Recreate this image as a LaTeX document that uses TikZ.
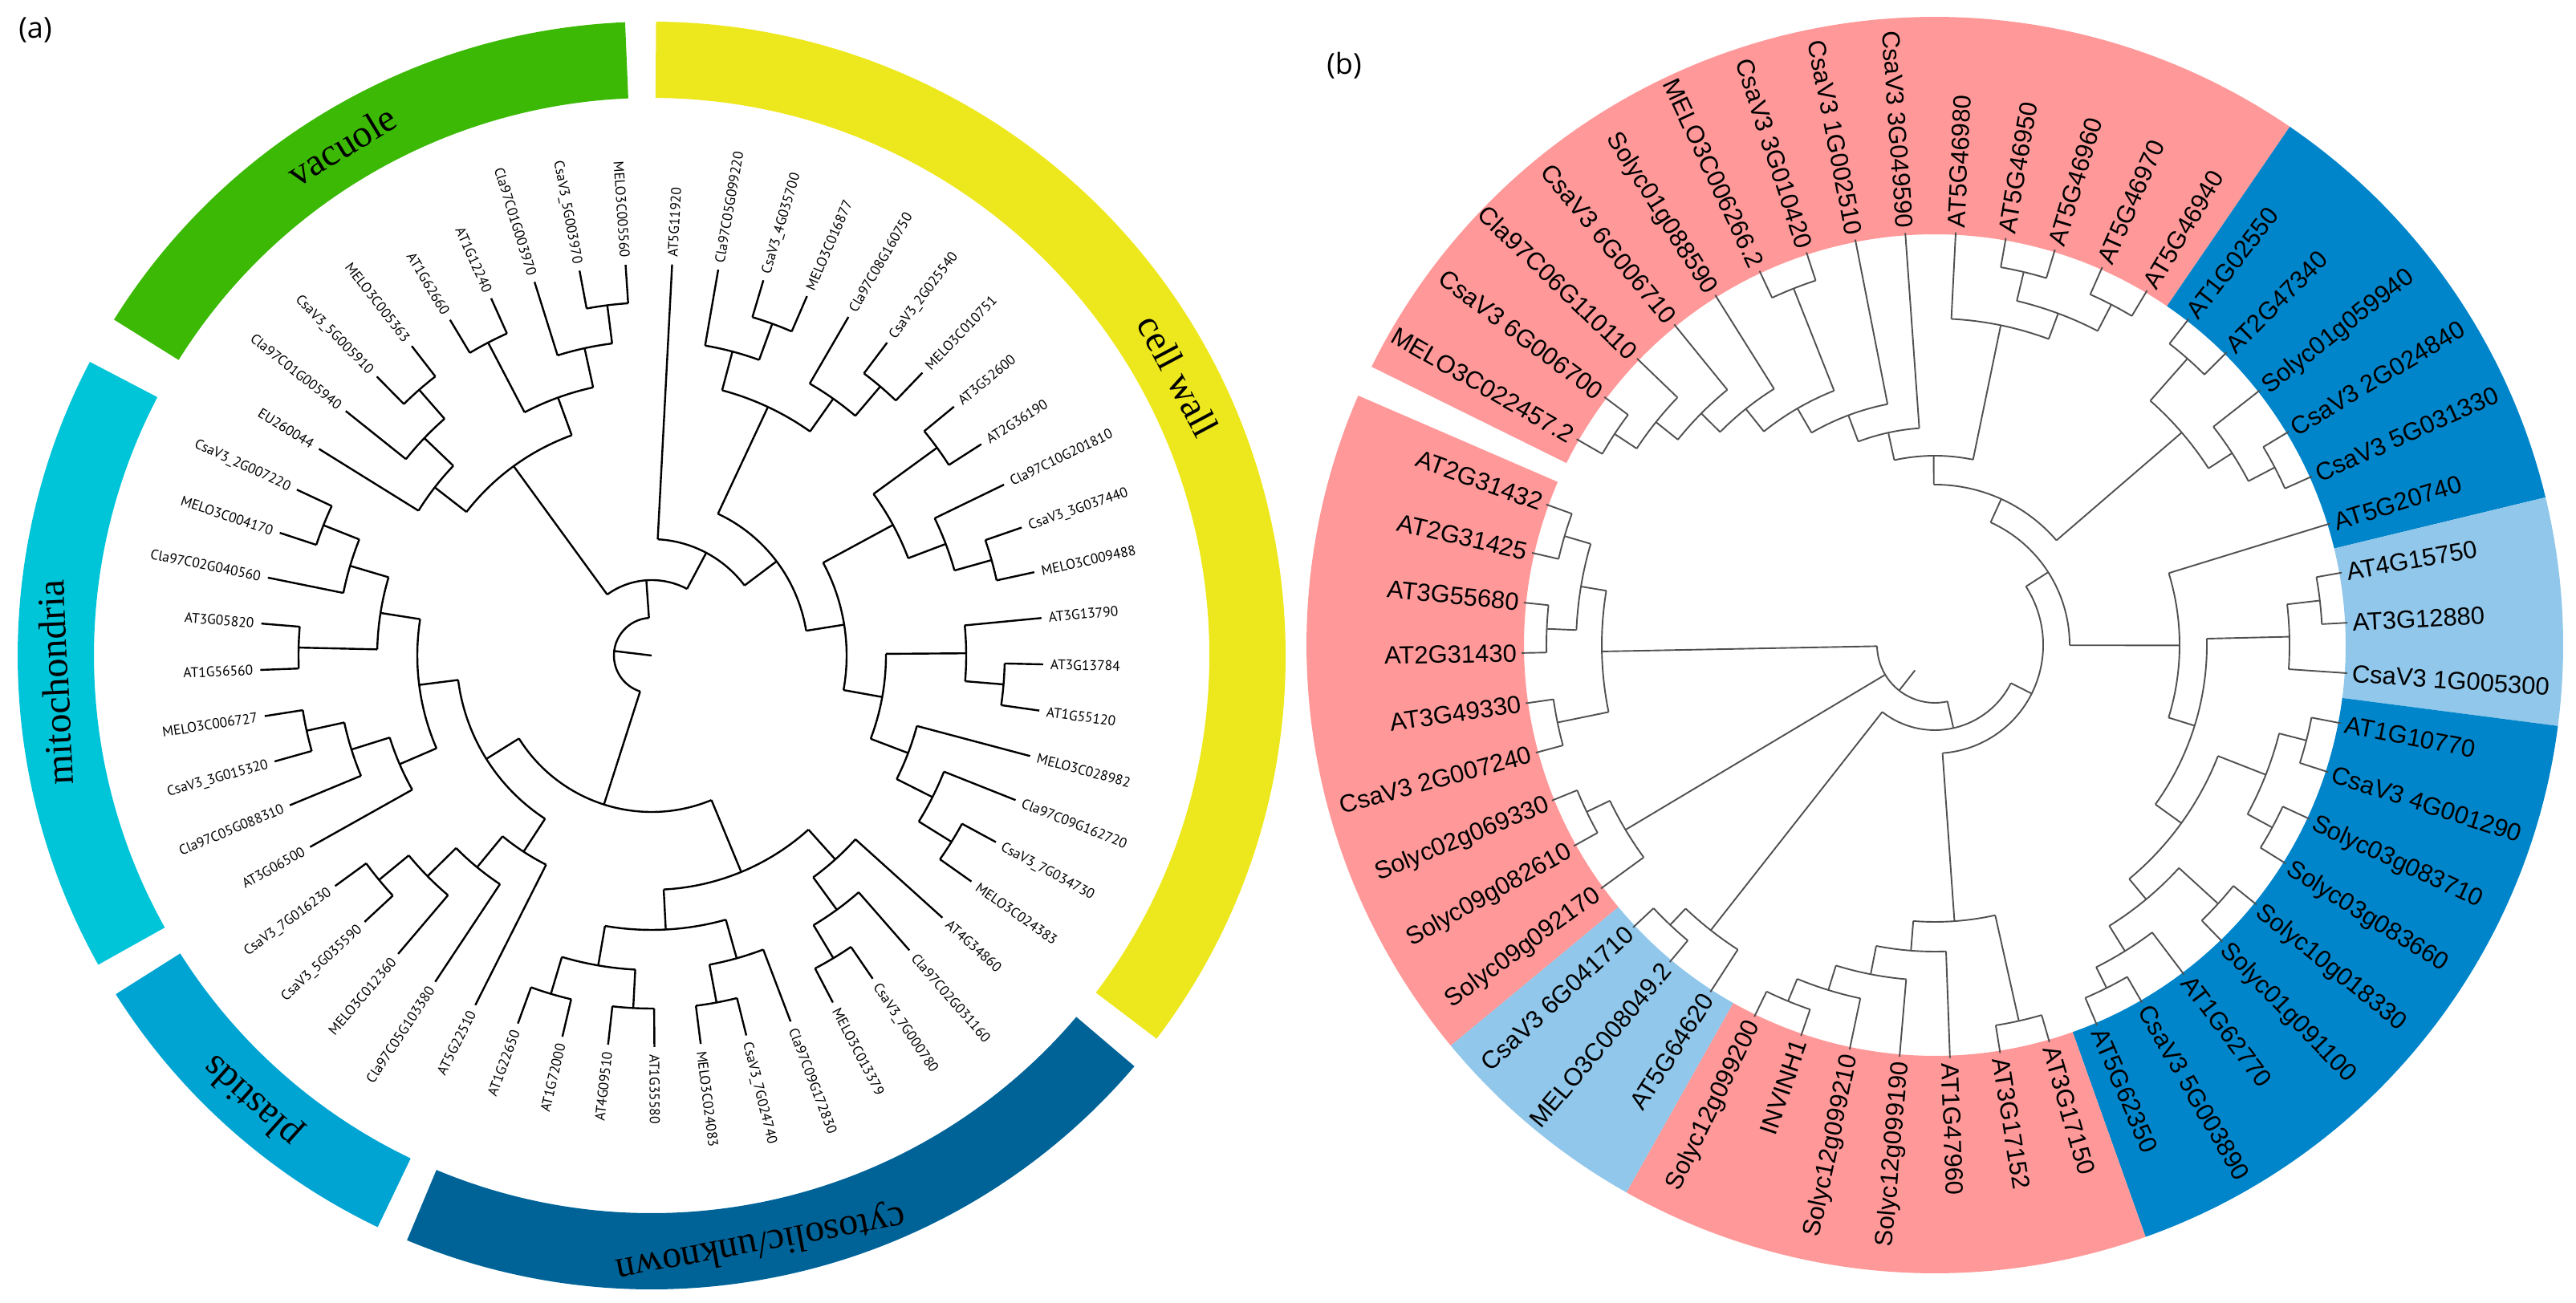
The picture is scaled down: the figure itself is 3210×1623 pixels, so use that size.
\documentclass[tikz,border=0pt]{standalone}
\usepackage{fontspec}
\newfontfamily\tipLfont{PT Sans}
\newfontfamily\tipRfont{Liberation Sans}
\newfontfamily\bandfont{Liberation Serif}
\newfontfamily\panelfont{Open Sans}
\definecolor{vacgreen}{RGB}{60,185,5}
\definecolor{wallyellow}{RGB}{237,232,30}
\definecolor{mitocyan}{RGB}{0,196,216}
\definecolor{plastblue}{RGB}{0,164,210}
\definecolor{cytoblue}{RGB}{0,99,152}
\definecolor{groupink}{RGB}{255,153,153}
\definecolor{groupdark}{RGB}{0,133,202}
\definecolor{grouplight}{RGB}{144,199,234}
\definecolor{treegray}{RGB}{80,80,80}
\tikzset{
  branchL/.style={line width=2.4pt, black},
  branchR/.style={line width=1.9pt, treegray},
  tipL/.style={font=\tipLfont\fontsize{17.5}{21}\selectfont, inner sep=0pt, text depth=0pt},
  tipR/.style={font=\tipRfont\fontsize{31}{36}\selectfont, inner sep=0pt, text depth=0pt},
  bandtext/.style={font=\bandfont\fontsize{48}{56}\selectfont, inner sep=0pt},
  panel/.style={font=\panelfont\fontsize{36}{42}\selectfont, inner sep=0pt}
}
% arc of a clade and the stem down to its parent
\newcommand{\cladearc}[5]{%
  \pgfmathsetmacro{\cmid}{(#3+#4)/2}%
  \draw[#1] (#3:#2) arc[start angle=#3, end angle=#4, radius=#2];%
  \draw[#1] (\cmid:#5) -- (\cmid:#2);%
}
\newcommand{\bandsector}[5]{%
  \fill[#1] (#4:#2) arc[start angle=#4, end angle=#5, radius=#2]
    -- (#5:#3) arc[start angle=#5, end angle=#4, radius=#3] -- cycle;%
}
\begin{document}
\begin{tikzpicture}[x=1pt,y=1pt]
\useasboundingbox (0,0) rectangle (3210,1623);
\node[panel] (pa) at (44,1585) {(a)};
\node[panel] (pb) at (1675,1541) {(b)};

\begin{scope}[shift={(812,806)}]
  \bandsector{wallyellow}{695}{790}{89.6}{-37.2}
  \bandsector{cytoblue}{695}{790}{-40.4}{-112.7}
  \bandsector{plastblue}{695}{790}{-115.6}{-147.7}
  \bandsector{mitocyan}{695}{790}{-150.8}{-207.6}
  \bandsector{vacgreen}{695}{790}{-212.0}{-267.6}
  \node[bandtext, rotate=31.3] (vac) at (121.3:744) {vacuole};
  \node[bandtext, rotate=-62] (wall) at (28:743) {cell wall};
  \node[bandtext, rotate=92.6] (mito) at (182.6:744) {mitochondria};
  \node[bandtext, rotate=138.1] (plast) at (228.1:744) {plastids};
  \node[bandtext, rotate=190.5] (cyto) at (280.5:744) {cytosolic/unknown};

  \foreach \r/\a/\b/\p in {440/-259.39/-266.18/392, 392/-252.6/-262.79/342,
    440/-239.02/-245.81/342, 342/-242.41/-257.7/292, 440/-225.43/-232.22/392,
    392/-218.64/-228.83/342, 342/-211.85/-223.74/292, 292/-217.79/-250.06/94,
    440/73.42/66.62/392, 392/80.21/70.02/342, 440/53.04/46.25/392,
    392/59.83/49.64/342, 342/75.11/54.74/195, 440/39.46/32.66/342,
    440/19.08/12.29/392, 392/25.87/15.68/342, 342/36.06/20.78/243,
    440/-1.3/-8.09/392, 392/5.5/-4.69/292, 440/-28.46/-35.26/392,
    392/-21.67/-31.86/342, 342/-14.88/-26.77/292, 292/0.4/-20.82/243,
    243/28.42/-10.21/195, 195/64.93/9.1/145, 145/87/37.02/94, 94/126.07/62.01/47,
    440/-55.63/-62.42/392, 392/-48.84/-59.03/342, 342/-42.05/-53.94/292,
    440/-76.01/-82.8/392, 392/-69.22/-79.4/342, 440/-89.59/-96.38/392,
    440/-103.18/-109.97/392, 392/-92.99/-106.57/342, 342/-74.31/-99.78/292,
    292/-47.99/-87.05/195, 440/-137.14/-143.93/392, 392/-130.34/-140.53/342,
    342/-123.55/-135.44/292, 292/-116.76/-129.5/243, 440/-164.3/-171.1/392,
    392/-157.51/-167.7/342, 342/-150.72/-162.61/292, 440/-177.89/-184.68/342,
    440/-198.26/-205.06/392, 392/-191.47/-201.66/342, 342/-181.28/-196.57/292,
    292/-156.66/-188.92/243, 243/-123.13/-172.79/195, 195/-67.52/-147.96/47,
    47/94.04/252.26/0}
    {\cladearc{branchL}{\r}{\a}{\b}{\p}}

  \foreach \lab/\pr [count=\k] in {AT5G11920/145, Cla97C05G099220/392,
    CsaV3\_4G035700/440, MELO3C016877/440, Cla97C08G160750/392,
    CsaV3\_2G025540/440, MELO3C010751/440, AT3G52600/440, AT2G36190/440,
    Cla97C10G201810/392, CsaV3\_3G037440/440, MELO3C009488/440, AT3G13790/392,
    AT3G13784/440, AT1G55120/440, MELO3C028982/342, Cla97C09G162720/392,
    CsaV3\_7G034730/440, MELO3C024383/440, AT4G34860/342, Cla97C02G031160/392,
    CsaV3\_7G000780/440, MELO3C013379/440, Cla97C09G172830/392,
    CsaV3\_7G024740/440, MELO3C024083/440, AT1G35580/440, AT4G09510/440,
    AT1G72000/440, AT1G22650/440, AT5G22510/292, Cla97C05G103380/342,
    MELO3C012360/392, CsaV3\_5G035590/440, CsaV3\_7G016230/440, AT3G06500/342,
    Cla97C05G088310/392, CsaV3\_3G015320/440, MELO3C006727/440, AT1G56560/440,
    AT3G05820/440, Cla97C02G040560/392, MELO3C004170/440, CsaV3\_2G007220/440,
    EU260044/342, Cla97C01G005940/392, CsaV3\_5G005910/440, MELO3C005363/440,
    AT1G62660/440, AT1G12240/440, Cla97C01G003970/392, CsaV3\_5G003970/440,
    MELO3C005560/440}{
    \pgfmathsetmacro{\ang}{87-(\k-1)*6.792}
    \pgfmathtruncatemacro{\flip}{cos(\ang)<0}
    \draw[branchL] (\ang:\pr) -- (\ang:488);
    \ifnum\flip=1
      \node[tipL, anchor=east, rotate=\ang+180] (a\k) at (\ang:497) {\lab};
    \else
      \node[tipL, anchor=west, rotate=\ang] (a\k) at (\ang:497) {\lab};
    \fi
  }
\end{scope}

\begin{scope}[shift={(2411,819)}]
  \bandsector{groupink}{512}{783}{153.7}{55.6}
  \bandsector{groupdark}{512}{783}{55.6}{13.6}
  \bandsector{grouplight}{512}{783}{13.6}{-7.4}
  \bandsector{groupdark}{512}{783}{-7.4}{-70.4}
  \bandsector{groupink}{512}{783}{-70.4}{-119.4}
  \bandsector{grouplight}{512}{783}{-119.4}{-140.4}
  \bandsector{groupink}{512}{783}{-140.4}{-203.4}

  \foreach \r/\a/\b/\p in {478/150.1/143.1/445, 445/146.6/136.1/410,
    410/141.35/129.1/377, 377/135.23/122.1/341, 478/115.1/108.1/341,
    341/128.66/111.6/306, 306/120.13/101.1/271, 271/110.61/94.1/236,
    478/80.1/73.1/441, 478/66.1/59.1/441, 441/76.6/62.6/407, 407/87.1/69.6/236,
    236/102.36/78.35/200, 476/52.1/45.1/406, 478/31.1/24.1/441,
    441/38.1/27.6/406, 406/48.6/32.85/200, 200/90.36/40.73/168,
    483/10.1/3.1/442, 442/6.6/-3.9/339, 478/-10.9/-17.9/443,
    478/-24.9/-31.9/443, 443/-14.4/-28.4/379, 478/-38.9/-45.9/412,
    478/-59.9/-66.9/449, 449/-52.9/-63.4/412, 412/-42.4/-58.15/379,
    379/-21.4/-50.28/339, 339/1.35/-35.84/305, 305/17.1/-17.25/168,
    168/65.54/-0.07/135, 480/-73.9/-80.9/345, 480/-108.9/-115.9/450,
    450/-101.9/-112.4/418, 418/-94.9/-107.15/382, 382/-87.9/-101.03/345,
    345/-77.4/-94.46/135, 135/32.73/-85.93/106, 480/-129.9/-136.9/452,
    452/-122.9/-133.4/106, 106/-26.6/-128.15/72, 481/-150.9/-157.9/449,
    449/-143.9/-154.4/72, 480/-164.9/-171.9/415, 484/-178.9/-185.9/447,
    481/-192.9/-199.9/447, 447/-182.4/-196.4/415, 415/-168.4/-189.4/72,
    72/-77.38/-178.9/40}
    {\cladearc{branchR}{\r}{\a}{\b}{\p}}

  \foreach \lab/\pr [count=\k] in {MELO3C022457.2/478, CsaV3 6G006700/478,
    Cla97C06G110110/445, CsaV3 6G006710/410, Solyc01g088590/377,
    MELO3C006266.2/478, CsaV3 3G010420/478, CsaV3 1G002510/306,
    CsaV3 3G049590/271, AT5G46980/407, AT5G46950/478, AT5G46960/478,
    AT5G46970/478, AT5G46940/478, AT1G02550/476, AT2G47340/476,
    Solyc01g059940/441, CsaV3 2G024840/478, CsaV3 5G031330/478, AT5G20740/305,
    AT4G15750/483, AT3G12880/483, CsaV3 1G005300/442, AT1G10770/478,
    CsaV3 4G001290/478, Solyc03g083710/478, Solyc03g083660/478,
    Solyc10g018330/478, Solyc01g091100/478, AT1G62770/449, CsaV3 5G003890/478,
    AT5G62350/478, AT3G17150/480, AT3G17152/480, AT1G47960/382,
    Solyc12g099190/418, Solyc12g099210/450, INVINH1/480, Solyc12g099200/480,
    AT5G64620/452, MELO3C008049.2/480, CsaV3 6G041710/480, Solyc09g092170/449,
    Solyc09g082610/481, Solyc02g069330/481, CsaV3 2G007240/480, AT3G49330/480,
    AT2G31430/484, AT3G55680/484, AT2G31425/481, AT2G31432/481}{
    \pgfmathsetmacro{\ang}{157.1-7*\k}
    \pgfmathtruncatemacro{\flip}{cos(\ang)<0}
    \draw[branchR] (\ang:\pr) -- (\ang:515);
    \ifnum\flip=1
      \node[tipR, anchor=east, rotate=\ang+180] (b\k) at (\ang:521) {\lab};
    \else
      \node[tipR, anchor=west, rotate=\ang] (b\k) at (\ang:521) {\lab};
    \fi
  }
\end{scope}
\end{tikzpicture}
\end{document}
